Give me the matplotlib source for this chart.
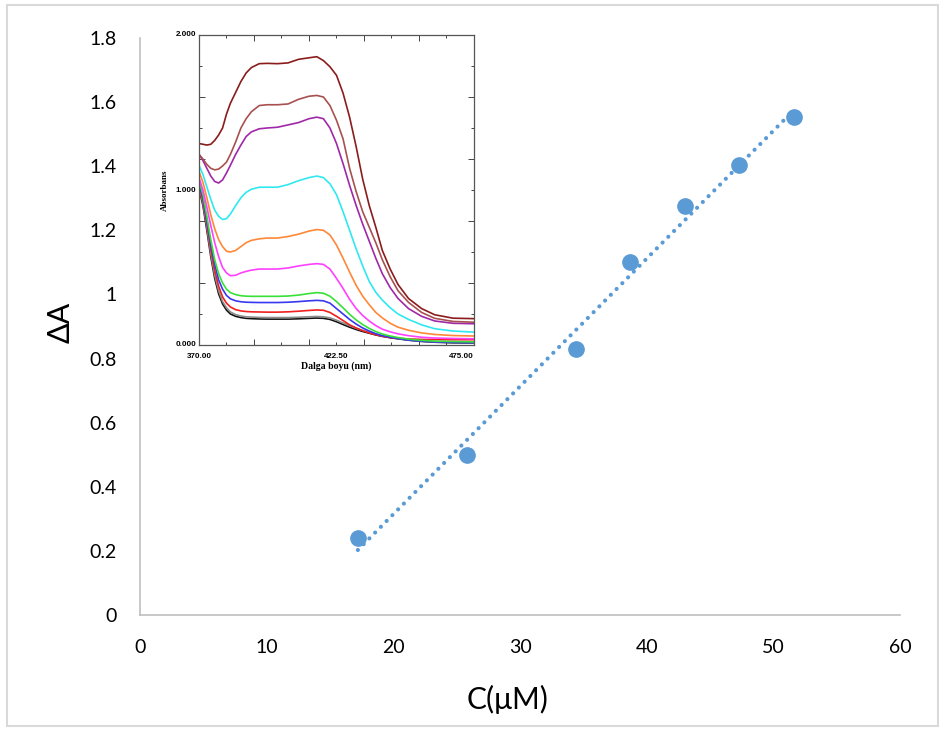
import numpy as np
import matplotlib
matplotlib.use("Agg")
import matplotlib.pyplot as plt
from matplotlib.patches import Rectangle
import matplotlib.transforms as mtransforms

# ---- main scatter data ----
conc = [17.2, 25.8, 34.4, 38.7, 43.0, 47.3, 51.6]
dA = [0.24, 0.50, 0.83, 1.10, 1.275, 1.405, 1.555]
x_ticks = [0, 10, 20, 30, 40, 50, 60]
y_ticks = [0, 0.2, 0.4, 0.6, 0.8, 1.0, 1.2, 1.4, 1.6, 1.8]
y_tick_labels = ["0", "0.2", "0.4", "0.6", "0.8", "1", "1.2", "1.4", "1.6", "1.8"]

# ---- inset spectra data (absorbance vs wavelength) ----
wl = [370, 371.5, 373, 374.5, 376, 377.5, 379, 380.5, 382, 384, 386, 388, 390, 393, 396,
      400, 404, 408, 412, 415, 417.5, 420, 422.5, 425, 427.5, 430, 432.5, 435, 437.5,
      440, 443, 446, 450, 455, 460, 467, 475]
spec_brown1 = [1.30, 1.295, 1.29, 1.295, 1.32, 1.355, 1.40, 1.49, 1.56, 1.63, 1.70, 1.755, 1.79,
               1.815, 1.817, 1.815, 1.82, 1.843, 1.853, 1.86, 1.835, 1.795, 1.74, 1.625, 1.47,
               1.28, 1.07, 0.90, 0.76, 0.61, 0.49, 0.39, 0.30, 0.235, 0.195, 0.173, 0.17]
spec_brown2 = [1.23, 1.20, 1.165, 1.14, 1.13, 1.135, 1.155, 1.18, 1.23, 1.31, 1.40, 1.46, 1.505,
               1.545, 1.55, 1.55, 1.555, 1.585, 1.605, 1.61, 1.60, 1.545, 1.45, 1.33, 1.14,
               0.99, 0.86, 0.76, 0.66, 0.55, 0.44, 0.35, 0.275, 0.21, 0.172, 0.152, 0.147]
spec_purple = [1.23, 1.19, 1.14, 1.09, 1.055, 1.045, 1.065, 1.11, 1.16, 1.23, 1.29, 1.345, 1.375,
               1.395, 1.40, 1.405, 1.42, 1.435, 1.46, 1.47, 1.46, 1.40, 1.30, 1.17, 1.03,
               0.90, 0.78, 0.67, 0.56, 0.46, 0.37, 0.30, 0.235, 0.185, 0.155, 0.14, 0.137]
spec_cyan = [1.16, 1.10, 1.02, 0.94, 0.87, 0.83, 0.81, 0.815, 0.845, 0.90, 0.95, 0.985, 1.005,
             1.018, 1.018, 1.018, 1.035, 1.06, 1.08, 1.09, 1.08, 1.04, 0.97, 0.86, 0.74,
             0.62, 0.51, 0.41, 0.34, 0.29, 0.24, 0.20, 0.165, 0.13, 0.105, 0.09, 0.083]
spec_orange = [1.12, 1.05, 0.95, 0.84, 0.75, 0.68, 0.635, 0.605, 0.60, 0.61, 0.635, 0.66, 0.675,
               0.685, 0.69, 0.69, 0.70, 0.715, 0.735, 0.745, 0.74, 0.71, 0.645, 0.56, 0.47,
               0.385, 0.315, 0.26, 0.21, 0.175, 0.14, 0.115, 0.095, 0.078, 0.068, 0.061, 0.058]
spec_magenta = [1.08, 1.00, 0.89, 0.77, 0.66, 0.57, 0.50, 0.465, 0.447, 0.45, 0.465, 0.475, 0.483,
                0.49, 0.49, 0.49, 0.497, 0.51, 0.52, 0.525, 0.52, 0.49, 0.43, 0.365, 0.295,
                0.235, 0.19, 0.155, 0.125, 0.102, 0.085, 0.072, 0.06, 0.05, 0.045, 0.042, 0.04]
spec_green = [1.06, 0.97, 0.83, 0.68, 0.55, 0.46, 0.40, 0.36, 0.338, 0.325, 0.318, 0.315, 0.314,
              0.314, 0.314, 0.314, 0.316, 0.322, 0.332, 0.338, 0.334, 0.315, 0.28, 0.24, 0.198,
              0.162, 0.132, 0.107, 0.087, 0.071, 0.058, 0.048, 0.038, 0.03, 0.025, 0.022, 0.02]
spec_blue = [1.04, 0.95, 0.80, 0.65, 0.52, 0.42, 0.36, 0.32, 0.298, 0.285, 0.279, 0.276, 0.275,
             0.274, 0.274, 0.274, 0.276, 0.28, 0.285, 0.288, 0.285, 0.27, 0.235, 0.20, 0.165,
             0.135, 0.11, 0.09, 0.073, 0.06, 0.05, 0.042, 0.032, 0.025, 0.02, 0.017, 0.015]
spec_red = [1.03, 0.93, 0.78, 0.62, 0.48, 0.38, 0.31, 0.27, 0.245, 0.228, 0.22, 0.216, 0.214,
            0.213, 0.212, 0.212, 0.214, 0.218, 0.223, 0.226, 0.224, 0.21, 0.185, 0.158, 0.13,
            0.11, 0.092, 0.078, 0.066, 0.056, 0.048, 0.043, 0.039, 0.036, 0.035, 0.034, 0.034]
spec_gray = [1.02, 0.915, 0.76, 0.59, 0.45, 0.35, 0.28, 0.24, 0.213, 0.196, 0.187, 0.182, 0.18,
             0.178, 0.177, 0.177, 0.177, 0.179, 0.182, 0.184, 0.182, 0.175, 0.16, 0.142, 0.125,
             0.108, 0.094, 0.082, 0.07, 0.06, 0.05, 0.042, 0.033, 0.025, 0.02, 0.016, 0.014]
spec_black = [1.01, 0.90, 0.74, 0.57, 0.43, 0.33, 0.265, 0.225, 0.20, 0.185, 0.177, 0.172, 0.17,
              0.168, 0.167, 0.167, 0.167, 0.169, 0.172, 0.174, 0.172, 0.165, 0.15, 0.132, 0.115,
              0.10, 0.087, 0.076, 0.065, 0.056, 0.047, 0.04, 0.031, 0.023, 0.018, 0.014, 0.012]
spectra = [spec_black, spec_gray, spec_red, spec_blue, spec_green, spec_magenta,
           spec_orange, spec_cyan, spec_purple, spec_brown2, spec_brown1]
spec_colors = ["#111111", "#8c8c8c", "#f02020", "#3838f0", "#38e038", "#ff40ff",
               "#ff8838", "#30e8f0", "#a028a8", "#a85050", "#8b1c1c"]
inset_x_labels = ["370.00", "422.50", "475.00"]
inset_x_label_pos = [370, 422.5, 475]
inset_y_labels = ["0.000", "1.000", "2.000"]
inset_y_label_pos = [0, 1, 2]

main_font = ["Lato", "DejaVu Sans"]
blue = "#5B9BD5"

fig = plt.figure(figsize=(9.39, 7.29), dpi=100)
fig.patch.set_facecolor("white")
fig.patches.append(Rectangle((7 / 939, 1 - 726 / 729), 931 / 939, 721 / 729,
                             transform=fig.transFigure, fill=False,
                             edgecolor="#d9d9d9", linewidth=1.5))

ax = fig.add_axes([140 / 939, 1 - 615 / 729, 760 / 939, 577 / 729])
ax.set_xlim(0, 60)
ax.set_ylim(0, 1.8)
for s in ["top", "right"]:
    ax.spines[s].set_visible(False)
for s in ["left", "bottom"]:
    ax.spines[s].set_color("#bfbfbf")
    ax.spines[s].set_linewidth(1.2)
ax.set_xticks(x_ticks)
ax.set_xticklabels([str(v) for v in x_ticks], fontfamily=main_font, fontsize=14)
ax.set_yticks(y_ticks)
ax.set_yticklabels(y_tick_labels, fontfamily=main_font, fontsize=14)
ax.tick_params(length=0)
ax.tick_params(axis="x", pad=17)
ax.tick_params(axis="y", pad=17)

# trendline (linear fit of the data) drawn as round dots
coef = np.polyfit(conc, dA, 1)
xt = np.array([min(conc), max(conc)])
ax.plot(xt, np.polyval(coef, xt), linestyle=(0, (0.01, 1.95)), color=blue,
        linewidth=3.0, dash_capstyle="round", solid_capstyle="round", zorder=2)
ax.plot(conc, dA, "o", color=blue, markersize=11, zorder=3)

fig.text(61 / 939, 1 - 322 / 729, "ΔA", fontfamily=main_font, fontsize=22,
         rotation=90, ha="center", va="center")
fig.text(508 / 939, 1 - 699 / 729, "C(μM)", fontfamily=main_font, fontsize=21.5,
         ha="center", va="center")

# ---- inset ----
ins = fig.add_axes([199 / 939, 1 - 345 / 729, 275 / 939, 310 / 729])
for s, c in zip(spectra, spec_colors):
    ins.plot(wl, s, color=c, linewidth=1.2, solid_joinstyle="round")
ins.set_xlim(370, 475)
ins.set_ylim(0, 2)
for sp in ins.spines.values():
    sp.set_color("#555555")
    sp.set_linewidth(0.9)
ins.set_xticks(np.arange(370, 476, 21))
ins.set_xticks(np.arange(370, 476, 10.5), minor=True)
ins.set_yticks(np.arange(0, 2.01, 0.4))
ins.set_yticks(np.arange(0, 2.01, 0.2), minor=True)
ins.set_xticklabels([])
ins.set_yticklabels([])
ins.tick_params(which="both", direction="in", top=True, right=True,
                color="#444444", width=0.7)
ins.tick_params(which="major", length=4)
ins.tick_params(which="minor", length=2.2)

tick_font = dict(fontfamily="Liberation Sans", fontweight="bold", fontsize=5.8)
bx = mtransforms.blended_transform_factory(ins.transData, ins.transAxes)
for pos, lab in zip(inset_x_label_pos, inset_x_labels):
    ha = "right" if pos == inset_x_label_pos[-1] else "center"
    ins.text(pos, -0.025, lab, transform=bx, ha=ha, va="top", **tick_font)
by = mtransforms.blended_transform_factory(ins.transAxes, ins.transData)
for pos, lab in zip(inset_y_label_pos, inset_y_labels):
    ins.text(-0.01, pos, lab, transform=by, ha="right", va="center", **tick_font)

fig.text(336 / 939, 1 - 366 / 729, "Dalga boyu (nm)", fontfamily="Liberation Serif",
         fontweight="bold", fontsize=7, ha="center", va="center")
fig.text(165 / 939, 1 - 190 / 729, "Absorbans", fontfamily="Liberation Serif",
         fontweight="bold", fontsize=6.5, rotation=90, ha="center", va="center")

fig.savefig("out.png", dpi=100)
